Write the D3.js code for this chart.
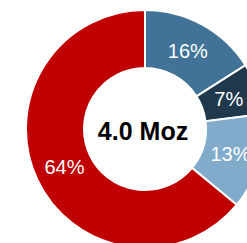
<!DOCTYPE html>
<html><head><meta charset="utf-8">
<script src="https://cdn.jsdelivr.net/npm/d3@7"></script>
<style>html,body{margin:0;padding:0;background:#fff;overflow:hidden}</style>
</head><body>
<svg id="chart" width="247" height="243"></svg>
<script>
const categories = ["A", "B", "C", "D"];
const values = [16, 7, 13, 64];
const labels = ["16%", "7%", "13%", "64%"];
const colors = ["#417399", "#1f384c", "#80abca", "#c00000"];
const centerText = "4.0 Moz";

const svg = d3.select("#chart");
const cx = 145, cy = 129, outerR = 119, innerR = 61;
const g = svg.append("g").attr("transform", `translate(${cx},${cy})`);
const pie = d3.pie().sort(null).value(d => d.v);
const data = pie(categories.map((c, i) => ({c, v: values[i], l: labels[i], col: colors[i]})));
const arc = d3.arc().innerRadius(innerR).outerRadius(outerR);
const labelArc = d3.arc().innerRadius(89).outerRadius(89);

g.selectAll("path").data(data).join("path")
  .attr("d", arc)
  .attr("fill", d => d.data.col)
  .attr("stroke", "#fff").attr("stroke-width", 2);

g.selectAll("text.lbl").data(data).join("text")
  .attr("class", "lbl")
  .attr("transform", d => `translate(${labelArc.centroid(d)})`)
  .attr("text-anchor", "middle").attr("dy", "0.36em")
  .attr("fill", "#fff")
  .style("font-family", "Arial, 'Liberation Sans', sans-serif")
  .style("font-size", "20px")
  .text(d => d.data.l);

g.append("text")
  .attr("text-anchor", "middle").attr("x", -2).attr("y", 11)
  .attr("fill", "#000")
  .style("font-family", "Arial, 'Liberation Sans', sans-serif")
  .style("font-weight", "bold")
  .style("font-size", "25px")
  .text(centerText);
</script>
</body></html>
